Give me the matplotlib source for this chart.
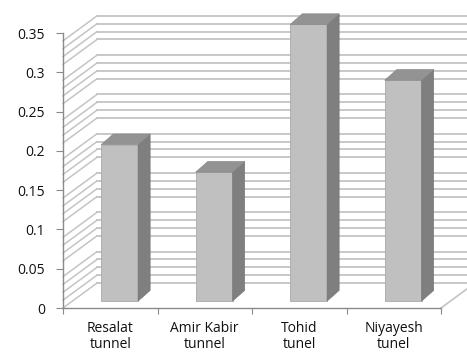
import numpy as np
import matplotlib.pyplot as plt
from matplotlib.patches import Polygon

categories = ['Resalat\ntunnel', 'Amir Kabir\ntunnel', 'Tohid\ntunel', 'Niyayesh\ntunel']
values = [0.199, 0.164, 0.352, 0.281]
yticks = [0, 0.05, 0.1, 0.15, 0.2, 0.25, 0.3, 0.35]

plt.rcParams['font.family'] = ['Open Sans', 'DejaVu Sans']

# 3d look: offsets in data units
wall_dx, wall_dy = 0.36, 0.0318     # back wall
bar_fx, bar_fy = 0.10, 0.0089       # bar front face
bar_dx, bar_dy = 0.127, 0.0135      # bar depth
bar_w = 0.39

grid_c = '#c4c4c4'
axis_c = '#8a8a8a'

fig = plt.figure(figsize=(4.67, 3.55), dpi=100)
ax = fig.add_axes([63/467, 47/355, 378/467, 275/355])
ax.set_xlim(0, len(categories))
ax.set_ylim(0, 0.35)

# minor gridlines on back wall + side wall (majors are not drawn)
minor = [k/100 for k in range(0, 35) if k % 5 != 0 or k == 0]
for v in minor:
    ax.plot([wall_dx, len(categories) + wall_dx + 0.5], [v + wall_dy]*2,
            color=grid_c, lw=1.3, clip_on=False, zorder=1)
    ax.plot([0, wall_dx], [v, v + wall_dy], color=grid_c, lw=1.1,
            clip_on=False, zorder=1)

# floor right edge
n = len(categories)
ax.plot([n, n + wall_dx], [0, wall_dy], color=grid_c, lw=1.2, clip_on=False, zorder=1)

# bars
for i, v in enumerate(values):
    x0 = i + 0.5 - bar_w/2 + bar_fx
    x1 = x0 + bar_w
    y0 = bar_fy
    y1 = bar_fy + v
    front = Polygon([(x0, y0), (x1, y0), (x1, y1), (x0, y1)], closed=True,
                    facecolor='#c0c0c0', edgecolor='#a9a9a9', lw=0.6,
                    clip_on=False, zorder=3)
    side = Polygon([(x1, y0), (x1 + bar_dx, y0 + bar_dy), (x1 + bar_dx, y1 + bar_dy), (x1, y1)],
                   closed=True, facecolor='#7f7f7f', edgecolor='#777777', lw=0.5,
                   clip_on=False, zorder=3)
    top = Polygon([(x0, y1), (x1, y1), (x1 + bar_dx, y1 + bar_dy), (x0 + bar_dx, y1 + bar_dy)],
                  closed=True, facecolor='#939393', edgecolor='#8a8a8a', lw=0.5,
                  clip_on=False, zorder=3)
    for p in (front, side, top):
        ax.add_patch(p)

for s in ['top', 'right']:
    ax.spines[s].set_visible(False)
for s in ['left', 'bottom']:
    ax.spines[s].set_color(axis_c)
    ax.spines[s].set_linewidth(1.0)
    ax.spines[s].set_zorder(4)

ax.set_yticks(yticks)
ax.set_yticklabels(['0', '0.05', '0.1', '0.15', '0.2', '0.25', '0.3', '0.35'])
ax.set_xticks(range(n + 1))
ax.set_xticklabels([])
ax.set_xticks([i + 0.5 for i in range(n)], minor=True)
ax.set_xticklabels(categories, minor=True, linespacing=1.1)
ax.tick_params(axis='x', which='minor', length=0, pad=9, labelsize=10, colors='#111111')
ax.tick_params(axis='x', which='major', length=4, color=axis_c, direction='out')
ax.tick_params(axis='y', length=5, color=axis_c, pad=8, labelsize=10, labelcolor='#111111')
ax.patch.set_visible(False)

fig.savefig('out.png', dpi=100)
